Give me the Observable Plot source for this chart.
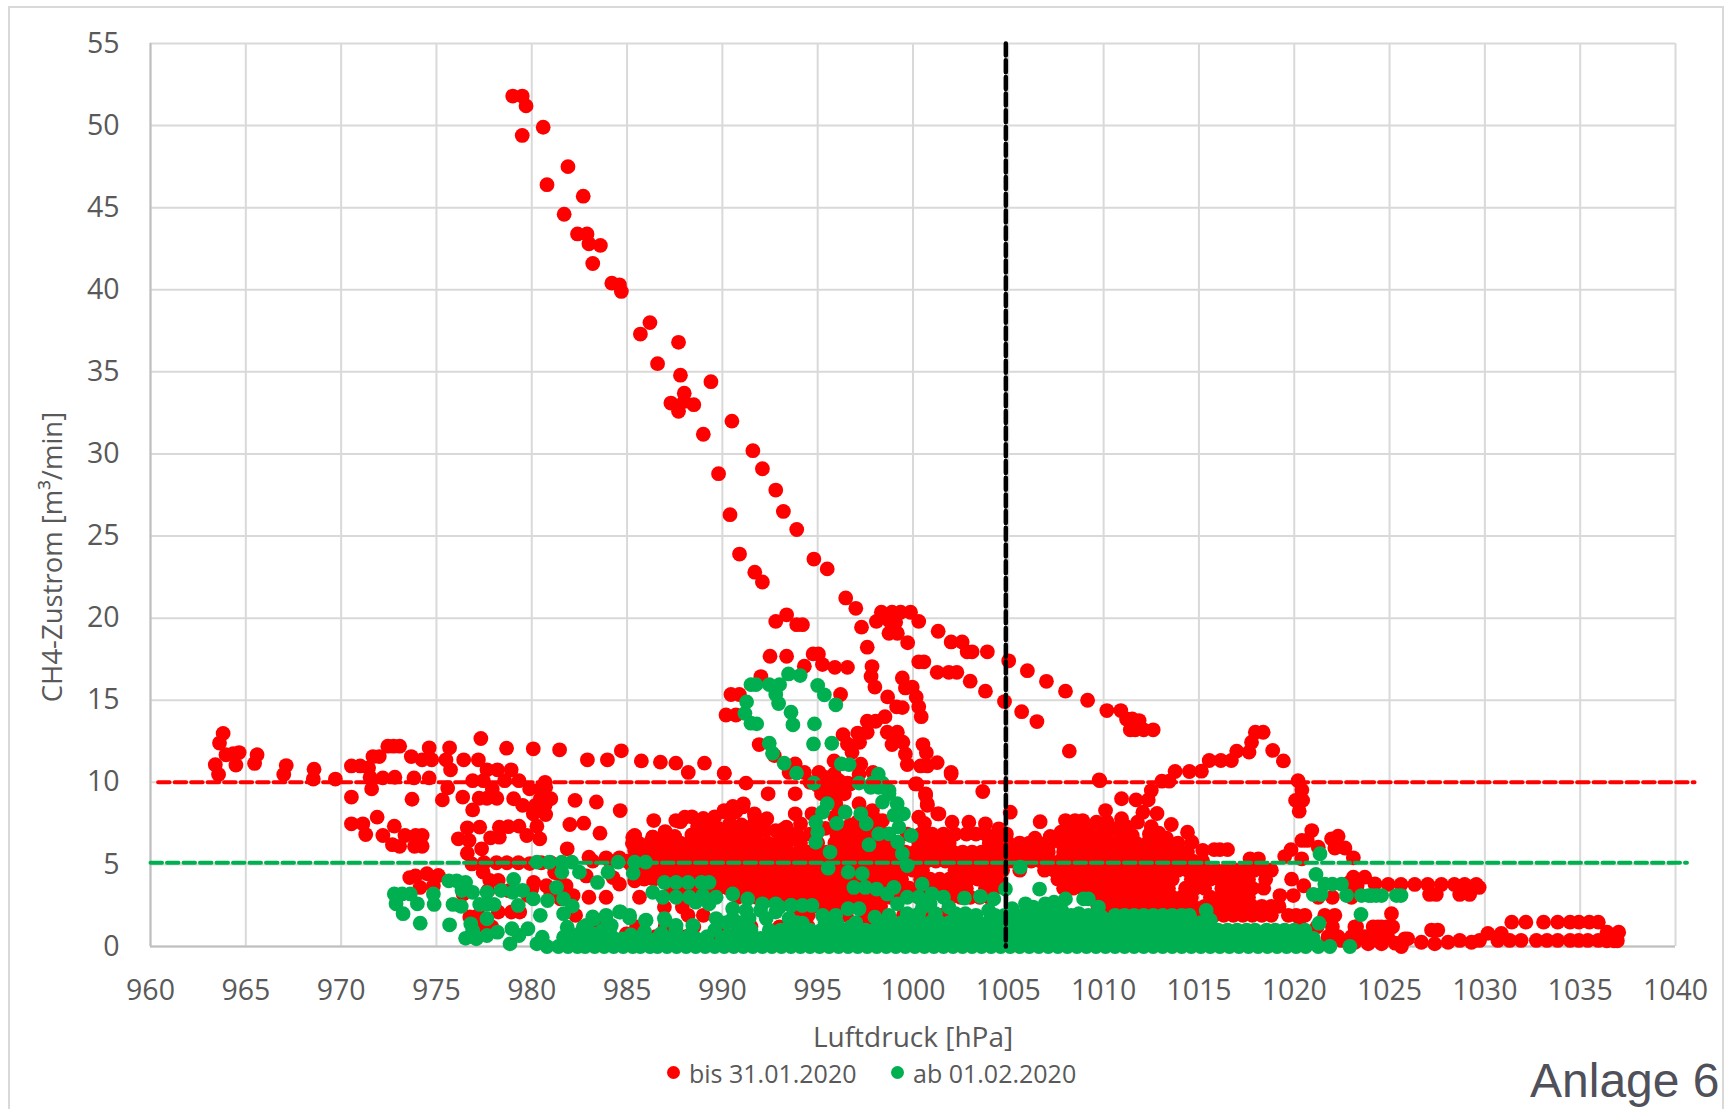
<!DOCTYPE html>
<html><head><meta charset="utf-8">
<style>
html,body{margin:0;padding:0;background:#fff;overflow:hidden;width:1729px;height:1109px}
#page{position:relative;width:1729px;height:1109px;overflow:hidden;font-family:"Open Sans",sans-serif}
#frame{position:absolute;left:8px;top:6px;width:1716px;height:1120px;border:2px solid #d9d9d9;box-sizing:border-box}
#chart{position:absolute;left:0;top:0}
#ylabel{position:absolute;left:51px;top:557px;transform:translate(-50%,-50%) rotate(-90deg);font-size:27.5px;color:#595959;white-space:nowrap}
#legend{position:absolute;left:0;top:1056px;width:1729px;height:34px;color:#595959;font-size:25px;line-height:34px}
#legend span{position:absolute;white-space:nowrap}
#legend i{position:absolute;width:13px;height:13px;border-radius:50%;top:10px}
#anlage{position:absolute;left:1530px;top:1053px;font-family:"Liberation Sans",Arial,sans-serif;font-size:48px;line-height:56px;color:#50505a;white-space:nowrap}
</style>
<script src="https://cdn.jsdelivr.net/npm/d3@7"></script>
<script src="https://cdn.jsdelivr.net/npm/@observablehq/plot@0.6"></script>
</head><body>
<div id="page"><div id="frame"></div><div id="chart"></div>
<div id="ylabel">CH4-Zustrom [m³/min]</div>
<div id="legend"><i style="left:667px;background:#ff0000"></i><span style="left:689px">bis 31.01.2020</span><i style="left:891px;background:#00b050"></i><span style="left:913px">ab 01.02.2020</span></div>
<div id="anlage">Anlage 6</div></div>
<script>
const xTicks=[960,965,970,975,980,985,990,995,1000,1005,1010,1015,1020,1025,1030,1035,1040];
const yTicks=[0,5,10,15,20,25,30,35,40,45,50,55];
const seriesNames=["bis 31.01.2020","ab 01.02.2020"];
const redLimit=10, greenLimit=5.1, pressureRef=1004.87;

const redSteepBranch=[[979,51.8],[979.5,51.8],[979.7,51.2],[979.5,49.4],[980.6,49.9],[981.9,47.5],[980.8,46.4],[982.7,45.7],[981.7,44.6],[982.4,43.4],[982.9,43.4],[983,42.8],[983.6,42.7],[983.2,41.6],[984.2,40.4],[984.6,40.3],[984.7,39.9],[985.7,37.3],[986.2,38],[986.6,35.5],[987.7,36.8],[987.8,34.8],[988,33.7],[987.3,33.1],[987.7,32.6],[988,33.2],[988.5,33],[989.4,34.4],[989,31.2],[990.5,32],[989.8,28.8],[990.4,26.3],[991.6,30.2],[992.1,29.1],[992.8,27.8],[993.2,26.5],[993.9,25.4],[994.8,23.6],[995.5,23],[990.9,23.9],[991.7,22.8],[992.1,22.2]];
const redPeak=[[996.47,21.23],[997,20.6],[998.34,20.36],[998.9,20.36],[999.35,20.36],[999.87,20.36],[998.08,19.8],[998.74,19.85],[999.09,19.75],[1000.3,19.8],[997.3,19.45],[998.74,19.08],[999.18,19.08],[999.72,18.5],[1001.32,19.2],[1002,18.55],[1002.58,18.55],[1002.84,17.95],[1003.1,17.95],[1003.9,17.95],[1005.02,17.4],[1006,16.8],[1007,16.15],[1008,15.55],[1009.16,15],[1010.17,14.37],[1010.9,14.37],[1011.2,13.86],[1011.5,13.86],[1011.86,13.76],[1011.4,13.2],[1011.66,13.2],[1012.1,13.2],[1012.6,13.2],[1000.3,17.34],[1000.57,17.34],[1001.27,16.7],[1001.88,16.7],[1002.3,16.7],[1003,16.16],[1003.8,15.55],[1004.8,14.92],[1005.7,14.3],[1006.5,13.7],[1008.2,11.9]];
const redMiddle=[[997.6,18.23],[997.85,17.05],[997.8,16.44],[998,15.8],[998.67,15.2],[999.14,14.6],[999.44,14.55],[999.44,16.36],[999.6,15.75],[999.96,15.8],[1000.17,15.2],[1000.3,14.6],[1000.43,14],[998.53,14],[998.04,13.72],[997.6,13.72],[997.6,13.05],[997.1,13],[996.33,12.9],[996.56,12.34],[997.2,12.44],[996.8,11.83],[998.65,13.05],[999.18,13.05],[998.9,12.3],[999.47,12.44],[999.6,11.73],[999.7,11.08],[1000.52,12.3],[1000.7,11.8],[1000.4,11],[1000.75,11],[1001.27,11.2],[1002,10.6],[993.37,20.2],[992.8,19.8],[993.9,19.6],[994.2,19.6],[992.5,17.68],[993.37,17.68],[994.76,17.82],[995.04,17.82],[994.3,17.07],[995.25,17.17],[995.9,17],[996.56,17],[992.02,16.44],[990.45,15.35],[990.89,15.35],[996.2,15.35],[990.19,14.1],[990.71,14.1],[991.93,12.3],[992.72,11.63],[993.82,11.12],[993.5,10.6],[994.3,10.6],[995.07,10.6],[995.86,11.3],[995.86,10.5],[995.4,10.3],[997.26,11.1],[997.17,10.5],[997.9,10.6],[990.1,10.55],[991.24,9.95],[1000.2,9.9],[1000.66,9.3],[994.6,10],[995,9.8],[995.7,9.7],[996.2,9.8],[996.7,9.9],[995.2,9.3],[995.9,9.2],[996.4,9.3]];
const redRightCurve=[[1009.8,10.1],[1012.5,9.5],[1013.05,10.07],[1013.44,10.07],[1013.75,10.66],[1014.5,10.66],[1015.13,10.68],[1015.54,11.33],[1016.15,11.33],[1016.7,11.33],[1016.98,11.9],[1017.63,11.84],[1017.76,12.44],[1017.96,13.05],[1018.37,13.05],[1018.87,11.94],[1019.43,11.3],[1020.2,10.1],[1020.4,9.54],[1020.07,8.9],[1020.44,8.9],[1020.26,8.24],[1020.92,7.06],[1020.4,6.46],[1020.68,6.46],[1019.83,5.9],[1019.5,5.48],[1020.39,5.34],[1021.26,6.05],[1021.96,6.56],[1022.3,6.72],[1022.13,6],[1022.66,6],[1023.1,5.4],[1017.68,5.34],[1018.12,5.34]];
const redFarLeft=[[963.81,12.98],[963.62,12.39],[963.96,11.68],[964.34,11.74],[964.65,11.81],[963.4,11.07],[964.48,11.05],[963.57,10.48],[965.59,11.68],[965.46,11.15],[967.12,11.02],[966.99,10.48],[968.58,10.8],[968.54,10.2],[969.7,10.2],[970.54,11],[971,11],[971.44,10.88],[971.67,11.57],[972,11.57],[972.45,12.2],[972.75,12.2],[973.07,12.2],[973.68,11.57],[974.62,12.1],[974.25,11.37],[974.75,11.37],[975.69,12.1],[975.5,11.37],[975.74,10.76],[976.43,11.37],[977.2,11.37],[977.33,12.67],[978.68,12.08],[980.08,12.04],[981.46,11.98],[982.92,11.37],[983.97,11.37],[984.7,11.92],[985.75,11.3],[986.75,11.23],[987.56,11.17],[988.21,10.6],[989.06,11.17],[990.1,10.56],[971.52,10.31],[972.19,10.27],[972.82,10.31],[973.82,10.27],[974.62,10.27],[971.6,9.6],[970.54,9.1],[973.72,8.97],[975.59,9.66],[975.31,8.93],[976.38,9.1],[976.9,10.1],[977.46,10.1],[977.65,10.76],[978.2,10.76],[978.92,10.76],[978.58,10.1],[979.33,10.1],[977.93,9.6],[977.24,9.03],[977.65,9.03],[978.17,9.03],[979.05,9],[979.52,8.6],[976.9,8.32],[979.89,9.6],[980.45,9.6],[980.73,9.7],[981,9],[980.45,9],[980.08,8.08],[980.73,8.04],[980.7,10],[980.2,8.6],[980.7,8.6],[982.27,8.9],[983.39,8.8],[984.64,8.28]];
const redLowLeft=[[970.54,7.47],[971.14,7.47],[971.29,6.82],[971.89,7.88],[972.19,6.76],[972.79,7.33],[972.69,6.2],[973.07,6.1],[973.35,6.76],[973.91,6.76],[974.25,6.76],[973.85,6.1],[974.25,6.1],[976.15,6.56],[976.62,7.23],[977.27,7.27],[976.71,6.46],[977.37,5.95],[976.62,5.68],[976.86,5.03],[977.84,6.62],[978.3,6.66],[978.3,7.27],[978.77,7.3],[979.33,7.33],[979.74,6.76],[980.27,7.33],[980.42,6.56],[982,7.43],[982.73,7.51],[983.58,6.9],[981.86,5.95],[986.4,7.67],[987.56,7.67],[988.03,7.88],[985.4,6.76],[985.28,6.29],[986.34,6.66],[977.5,5.1],[978.15,5.1],[978.7,5.1],[979.3,5.1],[979.9,5.05],[980.5,5.1],[981,5.1],[973.6,4.2],[974.5,4.43],[975.1,4.33],[974.14,3.6],[974.84,3.7],[973.9,4.3],[977.45,4.53],[977.8,4.02],[978.24,4.02],[976.4,3.2],[980,3.5],[980.77,3.7],[981.8,3.7],[982.17,3.1],[983,3],[983.9,3],[984.6,3.8],[985.65,3],[981.47,4.4],[982.86,4.3],[984.26,4.2],[983,5.44],[983.9,5.4],[984.6,5.4],[985.3,6.66],[985.4,5.85],[986.35,6.66],[986,6.05],[976.75,1.8],[977.2,1.9],[978.24,2.1],[978.94,2.1],[979.37,2.1],[982.3,1.9],[983.56,1.3],[984.96,0.77],[986.96,2.4],[987.9,2.4],[981,3.2],[981.5,2.9],[979.8,3.1],[977.7,3.4],[978.8,3.4],[977.4,1.3],[977.9,1.2],[980.1,3.9],[981.2,4.5],[985.4,4],[985.7,4.6],[985.2,5],[985.8,5.2]];
const redUpperBand=[[993.82,9.3],[993.24,7.17],[993.82,8.08],[994.1,7.47],[994.7,8.08],[995.25,10.3],[995.7,10.1],[996.12,10.1],[996.56,9.95],[995.86,9.5],[995.95,8.7],[997.17,8.7],[997.87,8.28],[998.4,7.67],[996.47,6.86],[1000.13,9.9],[1000.66,9.2],[1000.75,8.7],[1000.3,7.88],[1003.66,9.44],[1002,10.5],[1005.1,8.18],[1009.77,10.15],[992.4,9.3],[992.33,7.78],[992.24,7.06],[992.8,7.06],[993.36,7.27],[991.1,8.69],[990.55,8.53],[990.09,8.28],[991.68,8.08],[1000.75,8.6],[1001.3,8.08],[1006.67,7.6],[1010.94,9],[1011.7,8.93],[1012.34,8.93],[1012.8,8.1],[1013.55,7.43],[1014.4,6.96],[1014.63,6.35],[1010.1,8.28],[1009.63,7.57],[1008.5,7.67],[1008,7.67],[1008.9,7.67],[1007.76,6.96],[1010.94,7.78],[1011.78,7.57],[1012.06,8.18],[1011.5,6.76],[1010.56,7.17],[1010.17,7.6],[996.4,8.2],[997.3,8.1],[998.1,7.7],[998,7],[997.1,7.6],[995.9,7.9],[996.7,7.4],[995.4,7.2],[1001.36,8.08],[1000.6,7.5],[1002.05,7.57],[1002.93,7.57],[1003.8,7.47],[1004.5,7.17],[987.8,7.6],[988.4,7.9],[989,7.8],[989.6,7.9],[990.1,8.2],[990.7,8.2],[991.06,8.5],[991.7,7.9],[990.4,7.5],[989.3,7.4],[988.7,7.3],[991,7.4],[991.5,7.3],[992,7.4],[989.8,7.2],[990.6,7],[991.3,6.9],[989.1,6.9],[988.4,6.8],[987,7],[987.5,6.7],[1016.1,5.9],[1015.2,5.85],[1015.8,5.9],[1016.5,5.9],[1008.4,7.1],[1009.1,7.2],[1010.2,6.9],[1011.2,7.3],[1012.5,7.3],[1012.9,6.9],[1013.3,6.6],[1007.2,6.7],[1006.4,6.6]];

const redRows=[
[6.85,[989.6,990.2,990.9,991.7,993.2,993.9,994.6,996,996.6,997.2,997.9,998.6,999.7,1000.4,1001,1001.6,1002.2,1002.8,1003.3,1003.8,1004.4,1004.9,1008.2,1008.7,1009.3,1009.9,1010.9,1012.4,1012.9]],
[6.3,[985.6,986.2,986.8,987.3,987.8,988.3,988.8,989.3,989.8,990.3,990.8,991.3,991.9,992.4,992.9,993.4,994.1,995,995.9,996.5,997,997.5,998.1,998.6,999.1,1000.3,1000.8,1001.4,1001.9,1004,1004.5,1005,1005.6,1006.1,1006.6,1007.2,1007.8,1008.4,1008.9,1009.5,1010.1,1010.7,1011.2,1011.7,1012.3,1012.8,1013.3,1013.9]],
[5.75,[985.9,986.4,986.9,987.4,987.9,988.4,988.9,989.4,989.9,990.4,990.9,991.4,991.9,992.4,992.9,993.4,994,994.5,995,995.5,996.1,996.6,997.1,997.6,998.1,998.6,999.1,999.6,1000.1,1000.6,1001.1,1001.6,1002.1,1002.6,1003.1,1003.6,1004.1,1004.6,1005.1,1005.6,1006.1,1006.6,1007.1,1007.9,1008.5,1009.2,1009.8,1010.4,1010.9,1011.4,1011.9,1012.4,1012.9,1013.4,1013.9,1014.4]],
[5.2,[983.2,984.1,985,986.2,986.7,987.2,987.7,988.2,988.7,989.2,989.7,990.2,990.7,991.2,991.7,992.2,992.7,993.2,993.7,994.2,994.7,995.2,995.7,996.2,996.7,997.2,997.7,998.2,998.7,999.2,999.7,1000.2,1000.7,1001.2,1001.7,1002.2,1002.7,1003.2,1003.7,1004.2,1004.7,1005.2,1005.7,1006.2,1006.7,1007.2,1007.7,1008.2,1008.7,1009.2,1009.7,1010.2,1010.7,1011.2,1011.7,1012.2,1012.7,1013.2,1013.7,1014.2,1014.7,1015.2]],
[4.65,[986,986.5,987,987.5,988,988.5,989,989.5,990,990.5,991,991.5,992,992.5,993,993.5,994,994.5,995,995.5,996,996.5,997,997.5,998,998.5,999,999.5,1000,1000.5,1002.2,1002.7,1003.2,1003.7,1004.2,1004.7,1005.6,1006.9,1007.4,1007.9,1008.4,1008.9,1009.4,1009.9,1010.4,1010.9,1011.4,1011.9,1012.4,1012.9,1013.4,1013.9,1014.4,1014.9,1015.4,1015.9,1016.4,1016.9,1017.4,1017.9,1018.4,1018.8]],
[4.1,[985.9,986.4,986.9,987.4,987.9,988.4,988.9,989.4,989.9,990.4,990.9,991.4,991.9,992.4,992.9,993.4,993.9,994.4,994.9,995.4,995.9,996.4,996.9,997.4,997.9,998.4,998.9,999.4,1000.4,1000.9,1001.4,1001.9,1002.4,1002.9,1003.4,1003.9,1004.4,1007.6,1008.1,1008.6,1009.1,1009.6,1010.1,1010.6,1011.1,1011.6,1012.1,1012.6,1013.1,1013.6,1014.6,1015.1,1015.6,1016.1,1016.6,1017.1,1017.6,1018.5]],
[3.55,[987.3,987.8,988.3,988.8,989.3,989.8,990.3,990.8,991.3,991.8,992.3,992.8,993.3,993.8,994.3,994.8,995.3,995.8,996.3,996.8,997.3,997.8,998.3,998.8,999.3,999.8,1000.3,1000.8,1001.3,1001.8,1002.3,1002.8,1003.8,1004.3,1007.9,1008.4,1008.9,1009.4,1009.9,1010.4,1010.9,1011.4,1011.9,1012.4,1012.9,1013.4,1014.3,1014.8,1015.3,1016.2,1016.7,1017.2,1017.8,1018.4]],
[3,[990.8,991.3,991.8,992.3,992.8,993.3,993.8,994.3,994.8,995.3,995.8,996.3,996.8,997.3,997.8,998.3,998.8,999.3,1000.3,1000.8,1002,1002.5,1003,1003.5,1004,1009.6,1010.1,1010.6,1011.1,1011.6,1012.1,1012.6,1013.1,1013.6,1014.1,1014.6,1015.6,1016.1,1016.6,1017.1,1017.6]],
[2.45,[993.8,994.3,994.8,995.3,995.8,996.3,996.8,997.3,997.8,998.3,1009.7,1010.2,1010.7,1011.2,1011.7,1012.2,1012.7,1013.2,1013.7,1014.2,1014.7,1015.3,1015.8,1016.3,1016.8,1017.3,1017.8,1018.3,1018.8,1019.2]],
[1.9,[988.2,989,993.8,994.5,995.5,996.5,997.5,998.5,999.5,1000.5,1001.5,1014.8,1015.3,1015.8,1016.3,1016.8,1017.3,1017.8,1018.3,1018.8,1019.69,1020.1,1020.56,1021.6,1022.13]],
[1.2,[983.9,985.5,987,988.5,990,991.5,993,994.5,996,997.5,999,1000.5,1002,1003.5,1005,1006.5,1020.3,1021.2,1022,1023.18,1024.14,1024.58,1025.16,1024.85,1023.27,1024.38]],
[0.6,[984.9,986.5,988.1,989.6,991,992.5,994.1,996,1021.78,1022.3,1023,1023.7,1024.3,1024.9]],
];
const redFarRight=[[1019.86,4.1],[1020.5,3.7],[1023.1,4.22],[1023.7,4.22],[1024.23,3.82],[1024.93,3.78],[1025.6,3.78],[1026.32,3.78],[1027,3.78],[1027.72,3.78],[1028.4,3.78],[1028.94,3.78],[1029.55,3.78],[1029.7,3.6],[1019.25,3.1],[1019.95,3.1],[1021.26,3],[1022,3],[1023,3],[1027.1,3.17],[1027.45,3.17],[1028.68,3.17],[1029.2,3.17],[1023.3,3.7],[1022.9,3.9],[1025.1,2],[1027.53,1],[1027.2,1],[1021.78,0.57],[1022.48,0.37],[1023.18,0.26],[1023.88,0.16],[1024.58,0.16],[1025.62,0],[1025.8,0.47],[1025.95,0.47],[1025.3,0.2],[1026.67,0.26],[1027.37,0.16],[1028.07,0.26],[1028.68,0.37],[1029.3,0.26],[1029.72,0.37],[1030.16,0.8],[1030.68,0.37],[1030.86,0.8],[1031.3,0.37],[1031.41,1.48],[1031.9,0.37],[1032.15,1.48],[1032.7,0.37],[1033.08,1.48],[1033.26,0.37],[1033.82,1.48],[1033.82,0.37],[1034.47,1.48],[1034.47,0.37],[1034.93,1.48],[1034.93,0.37],[1035.48,1.48],[1035.4,0.37],[1035.95,1.48],[1035.95,0.37],[1036.41,0.87],[1037.02,0.87],[1036.4,0.35],[1036.78,0.35],[1036.95,0.35]];

const greenUpperArc=[[991.5,15.95],[991.76,15.95],[992.46,15.95],[993,15.95],[993.47,16.6],[994.08,16.5],[992.8,15.35],[992.95,14.8],[991.27,14.9],[991.18,14.2],[991.5,13.6],[991.8,13.56],[993.6,14.27],[993.7,13.5],[995,15.9],[995.35,15.33],[995.95,14.72],[994.83,13.56],[994.78,12.34],[995.74,12.38],[992.46,12.38],[992.63,11.77],[993.24,11.16],[993.89,10.56],[994.8,9.95],[996.24,11.12],[996.65,11.08],[997.17,9.95],[998.18,10.5],[997.87,9.95],[998.4,9.95],[998.74,9.5],[997.78,9.7],[998.2,9.7],[998.4,8.8],[999.17,8.7],[999.5,8.08],[999,8],[999.26,7.27],[999.9,6.76],[999.2,6.35],[999.44,5.65],[999.7,4.93],[998.74,9.3],[995.5,8.7],[995.25,8.18],[994.9,7.57],[995,6.96],[994.9,6.35],[996.44,8.18],[996,7.5],[997.26,8.08],[997.55,7.47],[998.2,6.86],[998.74,6.86],[997.69,6.2],[995.65,5.75],[995.55,4.77],[996.6,4.53],[997.34,4.43],[996.9,3.6],[997.5,3.6],[998.09,3.5],[998.65,3.2],[999,3.6],[1000.48,3.8],[1005.63,4.83],[1006.64,3.5]];
const greenLeft=[[972.79,3.2],[973.63,3.2],[973.2,3.2],[972.88,2.6],[973.25,2],[974,2.6],[974.84,3.2],[974.88,2.56],[974.15,1.42],[975.69,1.32],[975.87,2.56],[976.3,2.44],[975.65,4],[976.06,4],[976.53,3.9],[976.34,3.41],[976.9,3.3],[977.65,3.3],[978.4,3.41],[979.05,4.08],[979.52,3.41],[979,3.3],[980.08,2.9],[980.83,2.8],[981.3,3.6],[981.67,2.9],[982.13,2.46],[977.27,2.56],[977.65,2.56],[978.02,2.56],[979.29,2.5],[980.45,1.9],[977.65,1.69],[976.8,1.38],[976.9,0.97],[976.53,0.5],[977.09,0.47],[977.65,0.67],[978.2,0.87],[978.96,1.08],[979.8,1.08],[979.33,0.67],[978.86,0.16],[980.55,0.57],[980.27,0.16],[981.67,0.57],[981.67,2],[981.86,1.18],[982.7,1.18],[983.26,1.69],[983.88,1.79],[984.66,2.1],[985.13,1.75],[984.1,1.08],[983.26,0.77],[984.75,0.47],[985.97,1.58],[987,1.58],[985.88,0.77],[987.56,1.08],[980.27,5.14],[980.92,5.14],[981.58,5.14],[982.1,5.14],[981.58,4.53],[982.5,4.53],[983.45,3.9],[984,4.53],[984.53,5.14],[985.4,5.14],[985.97,5.14],[985.32,4.47],[986.35,3.3],[986.96,3.9],[987.57,3.9],[988.2,3.9],[988.9,3.9],[989.3,3.9],[986.88,3],[987.57,3],[988.27,3],[988.97,3.1],[989.67,3],[990.54,3.2],[988.6,2.7],[989.3,2.6],[990.54,2.3],[991.33,2.9],[992.1,2.6],[992.8,2.6],[993.6,2.5],[991.24,2.2],[992,2.2],[992.8,2.1],[989.67,1.7],[990.54,1.7],[991.4,1.7],[992.3,1.7],[993.5,1.7],[992.46,1],[993.07,1],[990.3,0.67],[988.45,1.28],[987.57,1.28],[986.96,1.7],[986,1.6],[984.6,2.1],[985.13,1.9],[983.9,1.9],[983.2,1.8],[984.17,1.28],[983.73,1],[982.86,1.28],[985.92,0.9],[991.68,0.37],[982.4,0.7],[983,0.5],[985.2,0.7],[986.8,0.8],[988.3,0.7],[989.2,0.6],[987.6,0.5]];
const greenMiddle=[[999.18,2.6],[999.7,3],[1000.3,3],[1001,3.2],[1001.6,3],[1001.88,2.4],[1002.7,2.95],[1003.54,3.05],[1004.24,2.9],[1004.85,3.5],[1003.97,2.2],[1002.75,2],[1002.23,2],[1005.9,2.6],[1006.94,2.6],[1008,2.9],[1008.95,2.9],[1009.2,2.9],[1009.73,2.4],[1009.9,1.8],[1005.2,2.3],[1007.8,2.2],[1008.7,2],[1006.3,2.4],[1007.4,2.7],[1000.5,2.4],[1000.9,2.6],[993,2.4],[993.6,2.5],[994.2,2.5],[994.7,2.5],[995.25,1.9],[995.95,1.9],[996.6,2.3],[997.17,2.3],[994.2,1.42],[993.33,1],[995.5,0.77],[996.7,1.18],[998,1.79],[998.74,1.9],[999.7,2],[1000.3,2],[1001.18,2],[1015.38,2.2],[1015.6,1.6]];
const greenRight=[[1021.35,5.65],[1021.14,4.39],[1021.6,3.8],[1022,3.8],[1022.48,3.8],[1021,3.17],[1021.4,3.17],[1022.74,3.1],[1023.53,3.1],[1023.9,3.1],[1024.05,3.1],[1024.3,3.1],[1024.58,3.1],[1025.36,3.1],[1025.6,3.1],[1023.5,1.95],[1021.3,1.42],[1021.87,0],[1022.92,0],[1021.26,0],[1021,0.2]];
const greenRows=[
[1.9,[1010.6,1011.1,1011.6,1012.1,1012.6,1013.1,1013.6,1014.1,1014.5,1002.8,1003.3,1004.3,1004.8,1005.7,1006.2,1006.7,1007.2,1007.7,1008.3,1009.2]],
[1.45,[990.2,991,993.9,995.4,996,997,998.3,998.9,999.4,999.9,1000.4,1000.9,1001.4,1001.9,1002.4,1002.9,1003.4,1003.9,1004.4,1005.3,1005.8,1006.2,1006.7,1007.2,1007.7,1008.2,1008.7,1009.2,1009.7,1010.2,1010.7,1011.2,1011.7,1012.2,1012.7,1013.2,1013.7,1014.2,1014.7,1015.1]],
[1,[989.6,990.8,991.5,994,994.6,995.2,996,996.5,997,997.5,998,998.5,999,999.5,1000,1000.5,1001,1001.5,1002,1002.5,1003,1003.5,1004,1004.5,1005,1005.5,1006,1006.5,1007,1007.5,1008,1008.5,1009,1009.5,1010,1010.5,1011,1011.5,1012,1012.5,1013,1013.5,1014,1014.5,1015,1015.5,1016,1016.5,1017,1017.5,1017.94,1018.55,1019,1019.5,1020,1020.56]],
[0.5,[981.9,982.9,983.8,984.3,985.3,986,986.6,987.2,988,988.6,990,990.5,991,991.6,992,992.5,993,993.5,994,994.5,995,995.5,996,996.5,997,997.5,998,998.5,999,999.5,1000,1000.5,1001,1001.5,1002,1002.5,1003,1003.5,1004,1004.5,1005,1005.5,1006,1006.5,1007,1007.5,1008,1008.5,1009,1009.5,1010,1010.5,1011,1011.5,1012,1012.5,1013,1013.5,1014,1014.5,1015,1015.5,1016,1016.5,1017,1017.5,1018,1018.5,1019,1019.5,1020,1020.5,1021]],
[0,[980.8,981.4,981.9,982.4,982.8,983.3,983.8,984.3,984.8,985.3,985.7,986.2,986.6,987.1,987.6,988.1,988.6,989.1,989.6,990.1,990.6,991.1,991.6,992.1,992.6,993.1,993.6,994.1,994.6,995.1,995.6,996.1,996.6,997.1,997.6,998.1,998.6,999.1,999.6,1000.1,1000.6,1001.1,1001.6,1002.1,1002.6,1003.1,1003.6,1004.1,1004.6,1005.1,1005.6,1006.1,1006.6,1007.1,1007.6,1008.1,1008.6,1009.1,1009.6,1010.1,1010.6,1011.1,1011.6,1012.1,1012.6,1013.1,1013.6,1014.1,1014.6,1015.1,1015.6,1016.1,1016.6,1017.1,1017.6,1018.1,1018.6,1019.1,1019.6,1020.1,1020.6]],
];

const fromRows=rows=>rows.flatMap(([y,xs])=>xs.map(x=>[x,y]));
const red=[...redSteepBranch,...redPeak,...redMiddle,...redRightCurve,...redFarLeft,...redLowLeft,...redUpperBand,...fromRows(redRows),...redFarRight];
const green=[...greenUpperArc,...greenLeft,...greenMiddle,...greenRight,...fromRows(greenRows)];

const tickColor="#595959", font="Open Sans, sans-serif";
const chart=Plot.plot({
  width:1729,height:1056,marginLeft:150,marginRight:54,marginTop:43,marginBottom:110,
  style:{fontFamily:font,background:"transparent",overflow:"visible"},
  x:{domain:[960,1040]},y:{domain:[0,55]},
  marks:[
    Plot.gridX(xTicks,{stroke:"#d9d9d9",strokeOpacity:1,strokeWidth:2}),
    Plot.gridY(yTicks,{stroke:"#d9d9d9",strokeOpacity:1,strokeWidth:2}),
    Plot.ruleX([xTicks[0]],{stroke:"#bfbfbf",strokeWidth:2}),
    Plot.ruleY([yTicks[0]],{stroke:"#bfbfbf",strokeWidth:2}),
    Plot.axisX({ticks:xTicks,tickSize:0,tickPadding:33,fontSize:28.5,color:tickColor,label:null,tickFormat:d=>String(d)}),
    Plot.axisY({ticks:yTicks,tickSize:0,tickPadding:31,fontSize:28.5,color:tickColor,label:null}),
    Plot.axisX({ticks:[],tickSize:0,fontSize:28,color:tickColor,label:"Luftdruck [hPa]",labelAnchor:"center",labelArrow:"none",labelOffset:100}),
    Plot.dot(red,{x:d=>d[0],y:d=>d[1],r:7.4,fill:"#ff0000",title:()=>seriesNames[0]}),
    Plot.dot(green,{x:d=>d[0],y:d=>d[1],r:7.4,fill:"#00b050",title:()=>seriesNames[1]}),
    Plot.line([[960.4,redLimit],[1041,redLimit]],{stroke:"#ff0000",strokeWidth:4,strokeDasharray:"11.5,5"}),
    Plot.line([[960,greenLimit],[1040.6,greenLimit]],{stroke:"#00b050",strokeWidth:4,strokeDasharray:"11.5,5"}),
    Plot.line([[pressureRef,55],[pressureRef,0]],{stroke:"#000000",strokeWidth:4.5,strokeDasharray:"12,4.7"})
  ]
});
document.getElementById("chart").appendChild(chart);
</script>
</body></html>
